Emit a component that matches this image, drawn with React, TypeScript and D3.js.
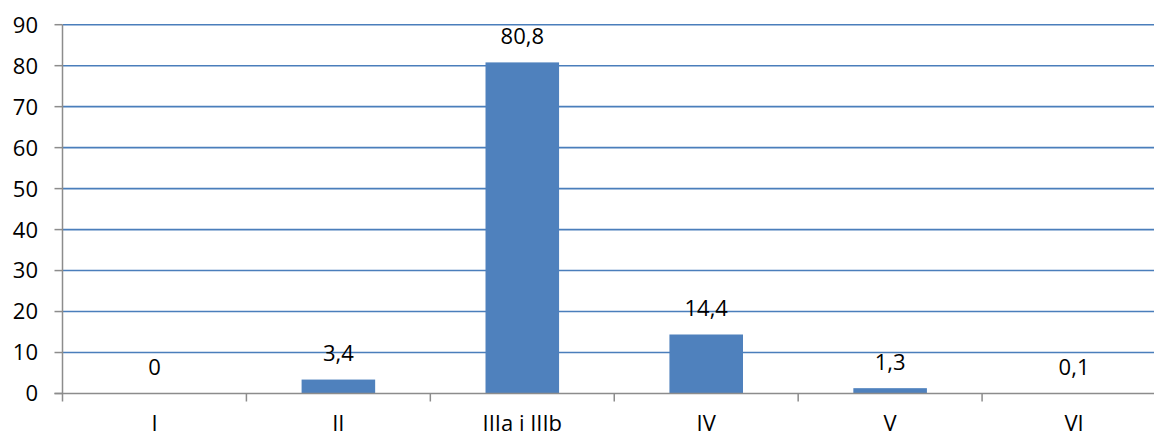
import React, { useEffect, useRef } from 'react';
import * as d3 from 'd3';

const categories = ['I', 'II', 'IIIa i IIIb', 'IV', 'V', 'VI'];
const values = [0, 3.4, 80.8, 14.4, 1.3, 0.1];
const valueLabels = ['0', '3,4', '80,8', '14,4', '1,3', '0,1'];
const yTicks = [0, 10, 20, 30, 40, 50, 60, 70, 80, 90];

export default function App() {
  const svgRef = useRef<SVGSVGElement>(null);

  useEffect(() => {
    if (!svgRef.current) return;
    const svg = d3.select(svgRef.current);
    svg.selectAll('*').remove();

    const width = 1154;
    const height = 437;
    const left = 62.5;
    const right = 1166;
    const top = 24.7;
    const bottom = 393.5;
    const font = "'Open Sans', sans-serif";
    const fontSize = '22px';

    const x = d3.scaleBand().domain(categories).range([left, right]).paddingInner(0.6).paddingOuter(0.3);
    const y = d3.scaleLinear().domain([0, 90]).range([bottom, top]);
    const cellX = d3
      .scaleLinear()
      .domain([0, categories.length])
      .range([left, right]);

    svg.attr('width', width).attr('height', height);

    // Grid lines
    svg
      .append('g')
      .selectAll('line')
      .data(yTicks.filter((t) => t > 0))
      .enter()
      .append('line')
      .attr('x1', left)
      .attr('x2', width)
      .attr('y1', (d) => y(d))
      .attr('y2', (d) => y(d))
      .attr('stroke', '#4a7ebb')
      .attr('stroke-width', 1.6);

    // Bars
    svg
      .append('g')
      .selectAll('rect')
      .data(values)
      .enter()
      .append('rect')
      .attr('x', (_, i) => x(categories[i]) as number)
      .attr('y', (d) => y(d))
      .attr('width', x.bandwidth())
      .attr('height', (d) => bottom - y(d))
      .attr('fill', '#4f81bd');

    // Axes
    const axisColor = '#8c8c8c';
    svg
      .append('line')
      .attr('x1', left)
      .attr('x2', left)
      .attr('y1', top)
      .attr('y2', bottom + 8)
      .attr('stroke', axisColor)
      .attr('stroke-width', 1.5);
    svg
      .append('line')
      .attr('x1', left - 8)
      .attr('x2', width)
      .attr('y1', bottom)
      .attr('y2', bottom)
      .attr('stroke', axisColor)
      .attr('stroke-width', 1.5);

    // Y ticks + labels
    const yg = svg.append('g');
    yg.selectAll('line')
      .data(yTicks)
      .enter()
      .append('line')
      .attr('x1', left - 8)
      .attr('x2', left)
      .attr('y1', (d) => y(d))
      .attr('y2', (d) => y(d))
      .attr('stroke', axisColor)
      .attr('stroke-width', 1.5);
    yg.selectAll('text')
      .data(yTicks)
      .enter()
      .append('text')
      .attr('x', 38)
      .attr('y', (d) => y(d))
      .attr('dy', '0.36em')
      .attr('text-anchor', 'end')
      .style('font-family', font)
      .style('font-size', fontSize)
      .style('fill', '#000')
      .text((d) => String(d));

    // X ticks + labels
    const xg = svg.append('g');
    xg.selectAll('line')
      .data(d3.range(1, categories.length + 1))
      .enter()
      .append('line')
      .attr('x1', (d) => cellX(d))
      .attr('x2', (d) => cellX(d))
      .attr('y1', bottom)
      .attr('y2', bottom + 8)
      .attr('stroke', axisColor)
      .attr('stroke-width', 1.5);
    xg.selectAll('text')
      .data(categories)
      .enter()
      .append('text')
      .attr('x', (d) => (x(d) as number) + x.bandwidth() / 2)
      .attr('y', 431)
      .attr('text-anchor', 'middle')
      .style('font-family', font)
      .style('font-size', fontSize)
      .style('fill', '#000')
      .text((d) => d);

    // Value labels
    svg
      .append('g')
      .selectAll('text')
      .data(values)
      .enter()
      .append('text')
      .attr('x', (_, i) => (x(categories[i]) as number) + x.bandwidth() / 2)
      .attr('y', (d) => y(d) - 18.5)
      .attr('text-anchor', 'middle')
      .style('font-family', font)
      .style('font-size', fontSize)
      .style('fill', '#000')
      .text((_, i) => valueLabels[i]);
  }, []);

  return (
    <div style={{ position: 'fixed', left: 0, top: 0, width: 1154, height: 437, background: '#fff' }}>
      <svg ref={svgRef} style={{ display: 'block' }}></svg>
    </div>
  );
}
